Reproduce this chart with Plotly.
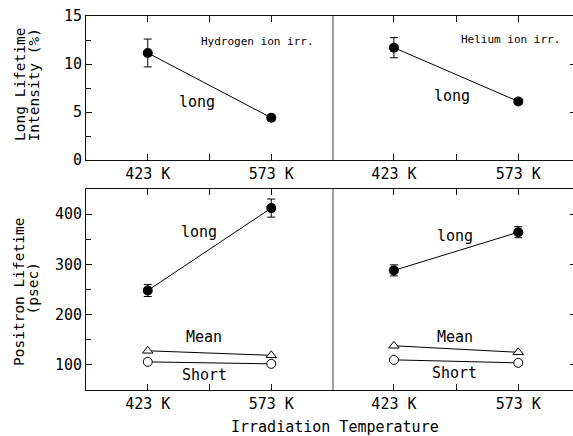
import plotly.graph_objects as go

# ---------------- data ----------------
temps = ["423 K", "573 K"]
xpos = [0, 1]

# top row: long lifetime intensity (%)
h_int = [11.15, 4.4]
h_int_err = [1.45, 0.25]
he_int = [11.7, 6.1]
he_int_err = [1.05, 0.3]

# bottom row: positron lifetimes (psec)
h_long = [248, 412]
h_long_err = [12, 18]
h_mean = [128, 119]
h_short = [106, 102]

he_long = [288, 364]
he_long_err = [11, 11]
he_mean = [138, 125]
he_short = [110, 104]

W, H = 573, 436
FONT = "DejaVu Sans Mono"


def px(x):
    return x / W


def py(y):
    return 1 - y / H


fig = go.Figure()

# domains (pixel based)
xl = [px(86), px(333)]
xr = [px(333), 1.0]
yt = [py(160), py(16)]
yb = [py(390), py(189)]

axis_common = dict(showgrid=False, zeroline=False, linecolor="#111", linewidth=1,
                   tickcolor="#111", ticks="inside", automargin=False,
                   tickfont=dict(family=FONT, size=15, color="#000"))

xaxis_common = dict(axis_common, tickvals=[0, 0.5, 1], ticktext=[temps[0], "", temps[1]],
                    ticklen=6, showline=True, mirror="ticks")

layout = dict(
    width=W, height=H, margin=dict(l=0, r=0, t=0, b=0),
    plot_bgcolor="white", paper_bgcolor="white", showlegend=False,
    font=dict(family=FONT, color="#000"),
    xaxis=dict(xaxis_common, domain=xl, range=[-0.5, 1.5], anchor="y"),
    yaxis=dict(axis_common, domain=yt, range=[0, 15], anchor="x", tickvals=[0, 5, 10, 15],
               ticklen=6, showline=True, mirror=False,
               minor=dict(ticks="inside", tickvals=[2.5, 7.5, 12.5], ticklen=5, tickcolor="#111")),
    xaxis2=dict(xaxis_common, domain=xr, range=[-0.49, 1.44], anchor="y2"),
    yaxis2=dict(axis_common, domain=yt, range=[0, 15], anchor="x2", side="right",
                tickvals=[0, 5, 10, 15], ticklen=3, showticklabels=False, showline=False),
    xaxis3=dict(xaxis_common, domain=xl, range=[-0.5, 1.5], anchor="y3"),
    yaxis3=dict(axis_common, domain=yb, range=[50, 450], anchor="x3", tickvals=[100, 200, 300, 400],
                ticklen=6, showline=True, mirror=False,
                minor=dict(ticks="inside", tickvals=[150, 250, 350], ticklen=5, tickcolor="#111")),
    xaxis4=dict(xaxis_common, domain=xr, range=[-0.49, 1.44], anchor="y4"),
    yaxis4=dict(axis_common, domain=yb, range=[50, 450], anchor="x4", side="right",
                tickvals=[100, 200, 300, 400], ticklen=3, showticklabels=False, showline=False),
)


def filled(x, y, err, xa, ya):
    fig.add_trace(go.Scatter(x=x, y=y, xaxis=xa, yaxis=ya, mode="lines+markers",
                             line=dict(color="#000", width=1),
                             marker=dict(symbol="circle", size=10, color="#000"),
                             error_y=dict(type="data", array=err, visible=True,
                                          color="#000", thickness=1, width=4)))


def opened(x, y, sym, xa, ya):
    fig.add_trace(go.Scatter(x=x, y=y, xaxis=xa, yaxis=ya, mode="lines+markers",
                             line=dict(color="#000", width=1),
                             marker=dict(symbol=sym, size=9, color="white",
                                         line=dict(color="#000", width=1))))


filled(xpos, h_int, h_int_err, "x", "y")
filled(xpos, he_int, he_int_err, "x2", "y2")
opened(xpos, h_mean, "triangle-up", "x3", "y3")
opened(xpos, h_short, "circle", "x3", "y3")
filled(xpos, h_long, h_long_err, "x3", "y3")
opened(xpos, he_mean, "triangle-up", "x4", "y4")
opened(xpos, he_short, "circle", "x4", "y4")
filled(xpos, he_long, he_long_err, "x4", "y4")

ann = []


def txt(t, x, y, xr_, yr_, size=15):
    ann.append(dict(text=t, x=x, y=y, xref=xr_, yref=yr_, showarrow=False,
                    font=dict(family=FONT, size=size, color="#000")))


txt("Hydrogen ion irr.", 0.886, 12.3, "x", "y", 11)
txt("long", 0.40, 6.0, "x", "y")
txt("Helium ion irr.", 0.935, 12.6, "x2", "y2", 11)
txt("long", 0.47, 6.7, "x2", "y2")
txt("long", 0.415, 364, "x3", "y3")
txt("Mean", 0.455, 156, "x3", "y3")
txt("Short", 0.46, 80, "x3", "y3")
txt("long", 0.49, 356, "x4", "y4")
txt("Mean", 0.49, 156, "x4", "y4")
txt("Short", 0.49, 84, "x4", "y4")


# axis titles
def ytitle(t, x, y):
    ann.append(dict(text=t, x=px(x), y=py(y), xref="paper", yref="paper", showarrow=False,
                    textangle=-90, xanchor="center", yanchor="middle",
                    font=dict(family=FONT, size=14.5, color="#000")))


ytitle("Long Lifetime", 20, 84)
ytitle("Intensity (%)", 33.5, 85)
ytitle("Positron Lifetime", 19, 292)
ytitle("(psec)", 32.5, 289)
ann.append(dict(text="Irradiation Temperature", x=px(335), y=py(427), xref="paper", yref="paper",
                showarrow=False, xanchor="center", yanchor="middle",
                font=dict(family=FONT, size=15, color="#000")))

layout["annotations"] = ann

# gray divider between the two columns
layout["shapes"] = [
    dict(type="line", xref="paper", yref="paper", x0=px(333), x1=px(333), y0=yt[0], y1=yt[1],
         line=dict(color="#808080", width=1.5)),
    dict(type="line", xref="paper", yref="paper", x0=px(333), x1=px(333), y0=yb[0], y1=yb[1],
         line=dict(color="#808080", width=1.5)),
]

fig.update_layout(**layout)
fig.write_html("out.html", config={"displayModeBar": False},
               post_script="document.body.style.margin='0';document.body.style.overflow='hidden';")
